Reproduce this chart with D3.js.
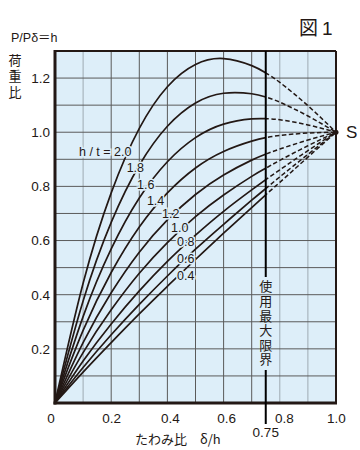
<!DOCTYPE html>
<html>
<head>
<meta charset="utf-8">
<script src="https://cdn.jsdelivr.net/npm/d3@7"></script>
<style>
  body { margin: 0; background: #fff; }
  svg text { font-family: "Liberation Sans", Arial, "Noto Sans CJK JP", sans-serif; fill: #231815; }
  .jp { font-family: "Noto Sans CJK JP", sans-serif; }
</style>
</head>
<body>
<div id="chart"></div>
<script>
// deflection ratio δ/h where loads were read
var deflection = [0, 0.1, 0.2, 0.3, 0.4, 0.5, 0.6, 0.7, 0.75, 0.8, 0.9, 1.0];

// load ratio P/Pδ=h for each h/t curve
var load20 = [0, 0.442, 0.776, 1.014, 1.168, 1.250, 1.272, 1.246, 1.219, 1.184, 1.098, 1];
var load18 = [0, 0.377, 0.667, 0.878, 1.022, 1.108, 1.144, 1.142, 1.130, 1.111, 1.060, 1];
var load16 = [0, 0.319, 0.569, 0.757, 0.891, 0.980, 1.030, 1.049, 1.050, 1.046, 1.027, 1];
var load14 = [0, 0.268, 0.482, 0.650, 0.776, 0.868, 0.929, 0.967, 0.980, 0.988, 0.997, 1];
var load12 = [0, 0.223, 0.407, 0.557, 0.676, 0.770, 0.842, 0.897, 0.919, 0.938, 0.971, 1];
var load10 = [0, 0.186, 0.344, 0.479, 0.592, 0.688, 0.768, 0.837, 0.867, 0.896, 0.950, 1];
var load08 = [0, 0.155, 0.292, 0.414, 0.523, 0.620, 0.708, 0.787, 0.825, 0.861, 0.932, 1];
var load06 = [0, 0.131, 0.252, 0.364, 0.469, 0.568, 0.660, 0.749, 0.792, 0.835, 0.918, 1];
var load04 = [0, 0.114, 0.223, 0.329, 0.431, 0.530, 0.627, 0.722, 0.769, 0.815, 0.908, 1];

var curveNames = ["h / t = 2.0", "1.8", "1.6", "1.4", "1.2", "1.0", "0.8", "0.6", "0.4"];
var curveLoads = [load20, load18, load16, load14, load12, load10, load08, load06, load04];

var xTickValues = [0, 0.2, 0.4, 0.6, 0.8, 1.0];
var yTickValues = [0.2, 0.4, 0.6, 0.8, 1.0, 1.2];
var limitRatio = 0.75;
var limitText = "使用最大限界";

// where each curve label sits, in chart units
var labelX = [0.272, 0.286, 0.323, 0.358, 0.412, 0.444, 0.465, 0.465, 0.465];
var labelY = [0.927, 0.868, 0.805, 0.747, 0.698, 0.646, 0.595, 0.532, 0.469];

var margin = {top: 51, right: 24, bottom: 47, left: 55},
    width = 360 - margin.left - margin.right,
    height = 450 - margin.top - margin.bottom;

var bg = "#ddeef9", ink = "#231815";

var svg = d3.select("#chart").append("svg")
    .attr("width", 360)
    .attr("height", 450);

var g = svg.append("g")
    .attr("transform", "translate(" + margin.left + "," + margin.top + ")");

var x = d3.scaleLinear().domain([0, 1]).range([0, width]);
var y = d3.scaleLinear().domain([0, 1.3]).range([height, 0]);

g.append("rect")
    .attr("width", width)
    .attr("height", height)
    .attr("fill", bg);

// grid
g.append("g")
    .selectAll("line")
    .data(d3.range(1, 10).map(function(d) { return d / 10; }))
    .enter().append("line")
    .attr("x1", function(d) { return x(d); })
    .attr("x2", function(d) { return x(d); })
    .attr("y1", 0)
    .attr("y2", height)
    .attr("stroke", function(d) { return (d < 0.15 || d > 0.75) ? "#9eaab2" : "#5a5a5a"; })
    .attr("stroke-width", 1);

g.append("g")
    .selectAll("line")
    .data(d3.range(1, 13).map(function(d) { return d / 10; }))
    .enter().append("line")
    .attr("x1", 0)
    .attr("x2", width)
    .attr("y1", function(d) { return y(d); })
    .attr("y2", function(d) { return y(d); })
    .attr("stroke", "#5a5a5a")
    .attr("stroke-width", 1);

// clip solid / dashed parts
var defs = svg.append("defs");
defs.append("clipPath").attr("id", "leftPart")
    .append("rect").attr("x", -5).attr("y", -5)
    .attr("width", x(limitRatio) + 5).attr("height", height + 10);
defs.append("clipPath").attr("id", "rightPart")
    .append("rect").attr("x", x(limitRatio)).attr("y", -5)
    .attr("width", width - x(limitRatio) + 5).attr("height", height + 10);

var line = d3.line()
    .x(function(d, i) { return x(deflection[i]); })
    .y(function(d) { return y(d); })
    .curve(d3.curveNatural);

g.append("g").attr("clip-path", "url(#leftPart)")
    .selectAll("path")
    .data(curveLoads)
    .enter().append("path")
    .attr("d", line)
    .attr("fill", "none")
    .attr("stroke", ink)
    .attr("stroke-width", 1.7);

g.append("g").attr("clip-path", "url(#rightPart)")
    .selectAll("path")
    .data(curveLoads)
    .enter().append("path")
    .attr("d", line)
    .attr("fill", "none")
    .attr("stroke", ink)
    .attr("stroke-width", 1.5)
    .attr("stroke-dasharray", "4.5,2.5");

g.append("circle")
    .attr("cx", x(1))
    .attr("cy", y(1))
    .attr("r", 2.5)
    .attr("fill", ink);

// curve labels, with a halo so the lines break under them
g.append("g")
    .selectAll("text")
    .data(curveNames)
    .enter().append("text")
    .attr("x", function(d, i) { return x(labelX[i]); })
    .attr("y", function(d, i) { return y(labelY[i]); })
    .attr("dy", "0.35em")
    .attr("text-anchor", function(d, i) { return i == 0 ? "end" : "middle"; })
    .attr("font-size", 12.5)
    .attr("stroke", bg)
    .attr("stroke-width", 3)
    .attr("paint-order", "stroke")
    .text(function(d) { return d; });

// frame
g.append("line").attr("x1", 0).attr("x2", width).attr("y1", 0).attr("y2", 0)
    .attr("stroke", ink).attr("stroke-width", 2);
g.append("line").attr("x1", width).attr("x2", width).attr("y1", 0).attr("y2", height)
    .attr("stroke", ink).attr("stroke-width", 2);
g.append("line").attr("x1", 0).attr("x2", 0).attr("y1", -1).attr("y2", height + 1.5)
    .attr("stroke", ink).attr("stroke-width", 3);
g.append("line").attr("x1", -1.5).attr("x2", width + 1).attr("y1", height).attr("y2", height)
    .attr("stroke", ink).attr("stroke-width", 3);

// limit of use line at 0.75, broken by vertical text
var textTop = 229, textLen = 88;
g.append("line")
    .attr("x1", x(limitRatio)).attr("x2", x(limitRatio))
    .attr("y1", 0).attr("y2", textTop - 3)
    .attr("stroke", "#000").attr("stroke-width", 2);
g.append("line")
    .attr("x1", x(limitRatio)).attr("x2", x(limitRatio))
    .attr("y1", textTop + textLen + 2).attr("y2", height + 21)
    .attr("stroke", "#000").attr("stroke-width", 2);
g.append("text")
    .attr("class", "jp")
    .attr("x", x(limitRatio))
    .attr("y", textTop)
    .style("writing-mode", "vertical-rl")
    .style("glyph-orientation-vertical", "0")
    .attr("font-size", 13)
    .attr("letter-spacing", 1.6)
    .text(limitText);

// axes
var xAxis = g.append("g")
    .attr("transform", "translate(0," + height + ")")
    .call(d3.axisBottom(x).tickValues(xTickValues).tickSize(0).tickPadding(10)
        .tickFormat(function(d) { return d == 0 ? "0" : d3.format(".1f")(d); }));
xAxis.select(".domain").remove();
xAxis.selectAll("text")
    .attr("font-size", 13.5)
    .attr("dx", function(d) { return d == 0 ? -4.5 : (d == 0.8 ? 4 : (d > 0.3 && d < 0.7 ? 2.5 : 0)); })
    .attr("fill", ink);

var yAxis = g.append("g")
    .call(d3.axisLeft(y).tickValues(yTickValues).tickSize(0).tickPadding(5)
        .tickFormat(d3.format(".1f")));
yAxis.select(".domain").remove();
yAxis.selectAll("text").attr("font-size", 13.5).attr("fill", ink);

g.append("text")
    .attr("x", x(limitRatio))
    .attr("y", height + 34)
    .attr("text-anchor", "middle")
    .attr("font-size", 13.5)
    .text("0.75");

// titles
svg.append("text")
    .attr("x", 135)
    .attr("y", 444)
    .attr("font-size", 13)
    .attr("class", "jp")
    .text("たわみ比　δ/h");

svg.append("text")
    .attr("x", 11)
    .attr("y", 42)
    .attr("font-size", 12.5)
    .text("P/Pδ＝h");

svg.append("text")
    .attr("class", "jp")
    .attr("x", 15)
    .attr("y", 54)
    .style("writing-mode", "vertical-rl")
    .attr("font-size", 13)
    .attr("letter-spacing", 3)
    .text("荷重比");

svg.append("text")
    .attr("class", "jp")
    .attr("x", 299)
    .attr("y", 35)
    .attr("font-size", 19)
    .text("図");

svg.append("text")
    .attr("x", 322)
    .attr("y", 35)
    .attr("font-size", 19)
    .text("1");

svg.append("text")
    .attr("x", 346)
    .attr("y", y(1) + margin.top)
    .attr("dy", "0.36em")
    .attr("font-size", 17)
    .text("S");
</script>
</body>
</html>
